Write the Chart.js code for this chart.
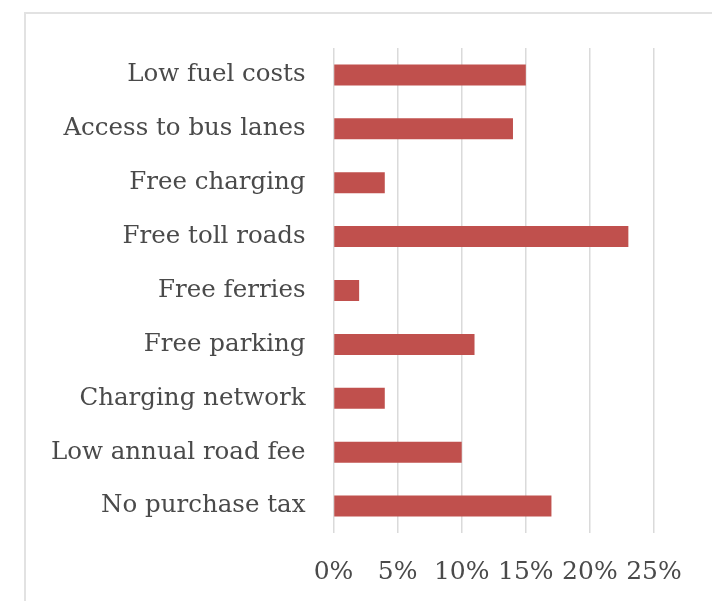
<!DOCTYPE html>
<html>
<head>
<meta charset="utf-8">
<script src="https://cdn.jsdelivr.net/npm/chart.js@4"></script>
<style>
  html, body { margin: 0; padding: 0; background: #fff; }
  body { width: 712px; height: 601px; position: relative; overflow: hidden; }
  /* chart frame, cut off at right and bottom */
  .frame {
    position: absolute; left: 24px; top: 12px; width: 760px; height: 700px;
    border-left: 2px solid #e2e2e2; border-top: 2px solid #e2e2e2;
  }
  #chart { position: absolute; left: 0; top: 0; }
</style>
</head>
<body>
<div class="frame"></div>
<canvas id="chart" width="712" height="601"></canvas>
<script>
/* ---------- data ---------- */
const categories = [
  'Low fuel costs',
  'Access to bus lanes',
  'Free charging',
  'Free toll roads',
  'Free ferries',
  'Free parking',
  'Charging network',
  'Low annual road fee',
  'No purchase tax'
];
const shares = [15, 14, 4, 23, 2, 11, 4, 10, 17];   // percent
const tickValues = [0, 5, 10, 15, 20, 25];

const textColor = '#4a4a4a';
const serif = "'DejaVu Serif', serif";

new Chart(document.getElementById('chart'), {
  type: 'bar',
  data: {
    labels: categories,
    datasets: [{
      data: shares,
      backgroundColor: '#c0504d',
      borderWidth: 0,
      barPercentage: 0.39,
      categoryPercentage: 1
    }]
  },
  options: {
    indexAxis: 'y',
    responsive: false,
    animation: false,
    layout: { padding: { top: 48, right: 58, bottom: 0, left: 0 } },
    plugins: { legend: { display: false }, tooltip: { enabled: false } },
    scales: {
      x: {
        min: 0,
        max: 25,
        afterBuildTicks: s => { s.ticks = tickValues.map(v => ({ value: v })); },
        afterFit: s => { s.height = 68; },
        grid: { color: '#dadada', lineWidth: 1.5, drawTicks: false },
        border: { display: false },
        ticks: {
          autoSkip: false,
          maxRotation: 0,
          padding: 24,
          color: textColor,
          font: { family: serif, size: 25 },
          callback: v => v + '%'
        }
      },
      y: {
        afterFit: s => { s.width = 333.5; },
        grid: { display: false, drawTicks: false },
        border: { display: false },
        ticks: {
          padding: 28,
          color: textColor,
          font: { family: serif, size: 24.5 }
        }
      }
    }
  }
});
</script>
</body>
</html>
